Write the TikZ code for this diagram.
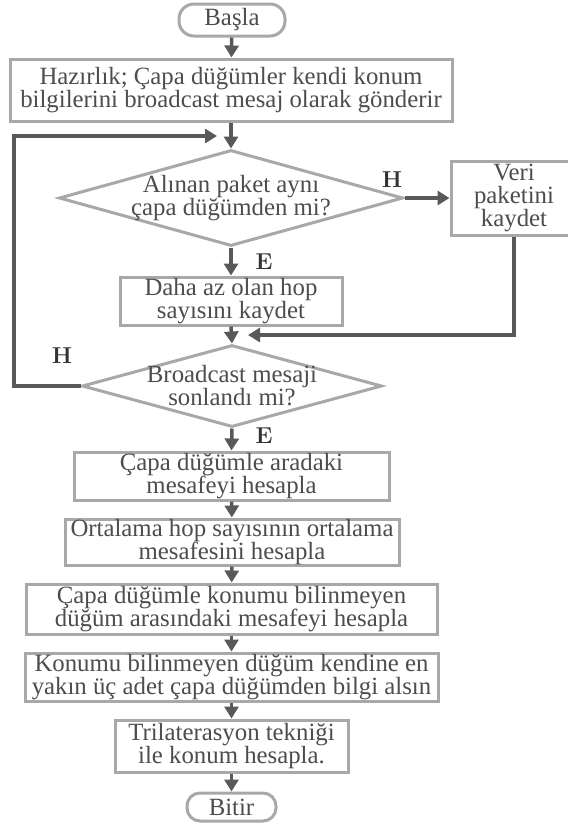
\documentclass[tikz,border=0pt]{standalone}
\usepackage{fontspec}
\setmainfont{Liberation Serif}
\usetikzlibrary{arrows.meta,shapes.geometric}

\definecolor{boxline}{HTML}{A8A8A8}
\definecolor{flow}{HTML}{595959}
\definecolor{txt}{HTML}{4D4D4D}
\definecolor{lbl}{HTML}{333333}
\newcommand\yesnofont{\fontfamily{lmr}\fontseries{bx}\fontshape{n}\fontsize{23}{23}\selectfont}
\newcommand\boxfont{\fontsize{24.8}{23}\selectfont}

\begin{document}
\begin{tikzpicture}[x=1pt,y=-1pt,
  proc/.style={draw=boxline, line width=3pt, fill=white, text=txt,
    font=\boxfont, align=center, inner sep=0pt},
  term/.style={proc, rounded corners=15pt},
  dec/.style={diamond, draw=boxline, line width=3pt, fill=white, inner sep=0pt},
  dectext/.style={text=txt, font=\boxfont, align=center, inner sep=0pt},
  flowline/.style={draw=flow, line width=3.5pt, -{Triangle[width=14pt,length=12pt]}},
  yn/.style={text=lbl, font=\yesnofont, inner sep=0pt}]
\useasboundingbox (0,0) rectangle (568,823);

% main column
\node[term, minimum width=106pt, minimum height=32pt] (start) at (232,20) {Başla};
\node[proc, minimum width=442pt, minimum height=62pt] (prep) at (231,90)
  {Hazırlık; Çapa düğümler kendi konum\\bilgilerini broadcast mesaj olarak gönderir};
\node[dec, minimum width=344pt, minimum height=96pt] (same) at (231,198) {};
\node[dectext] (sametext) at (same) {Alınan paket aynı\\çapa düğümden mi?};
\node[proc, minimum width=126pt, minimum height=74pt] (save) at (514,198)
  {Veri\\paketini\\kaydet};
\node[proc, minimum width=222pt, minimum height=48pt] (hop) at (231,301)
  {Daha az olan hop\\sayısını kaydet};
\node[dec, minimum width=300pt, minimum height=82pt] (done) at (232,386) {};
\node[dectext] (donetext) at (done) {Broadcast mesaji\\sonlandı mi?};
\node[proc, minimum width=315pt, minimum height=48pt] (dist) at (231.5,476)
  {Çapa düğümle aradaki\\mesafeyi hesapla};
\node[proc, minimum width=334pt, minimum height=46pt] (avg) at (232,542)
  {Ortalama hop sayısının ortalama\\mesafesini hesapla};
\node[proc, minimum width=411pt, minimum height=50pt] (unk) at (231.5,609)
  {Çapa düğümle konumu bilinmeyen\\düğüm arasındaki mesafeyi hesapla};
\node[proc, minimum width=413pt, minimum height=48pt] (near) at (231.5,677)
  {Konumu bilinmeyen düğüm kendine en\\yakın üç adet çapa düğümden bilgi alsın};
\node[proc, minimum width=233pt, minimum height=52pt] (tri) at (231.5,746)
  {Trilaterasyon tekniği\\ile konum hesapla.};
\node[term, minimum width=89pt, minimum height=28pt, rounded corners=13pt] (stop) at (231.5,807) {Bitir};

% yes / no labels
\node[yn] (no1) at (392,180) {H};
\node[yn] (yes1) at (264,262) {E};
\node[yn] (no2) at (62,356) {H};
\node[yn] (yes2) at (264,436) {E};

% free ends of the side connectors
\coordinate (loopin) at (217,136);
\coordinate (loopleft) at (14,136);
\coordinate (retin) at (248,335);

% connectors
\draw[flowline] (start) -- (prep);
\draw[flowline] (prep) -- (same);
\draw[flowline] (same.east) -- (save.west);
\draw[flowline] (same.south) -- (hop.north);
\draw[flowline] (hop.south) -- (done.north);
\draw[flowline] (save.south) |- (retin);
\draw[flowline] (done.west) -| (loopleft) -- (loopin);
\draw[flowline] (done.south) -- (dist.north);
\draw[flowline] (dist) -- (avg);
\draw[flowline] (avg) -- (unk);
\draw[flowline] (unk) -- (near);
\draw[flowline] (near) -- (tri);
\draw[flowline] (tri) -- (stop);
\end{tikzpicture}
\end{document}
